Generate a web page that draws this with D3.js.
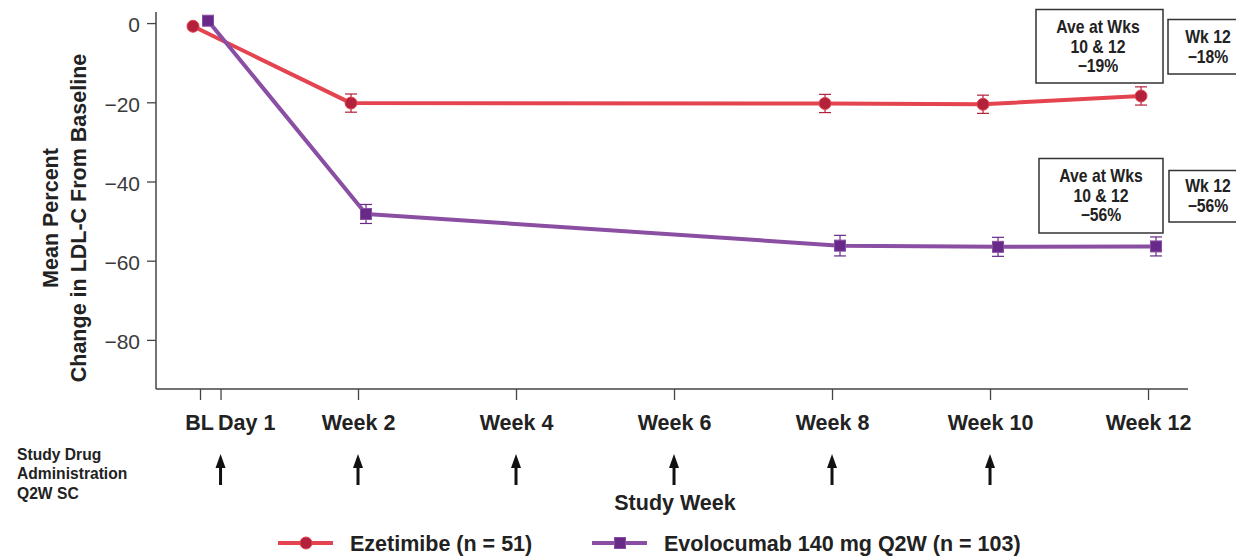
<!DOCTYPE html>
<html>
<head>
<meta charset="utf-8">
<script src="https://cdn.jsdelivr.net/npm/d3@7"></script>
<style>
  html, body { margin: 0; padding: 0; background: #fff; }
  svg { display: block; }
  text { font-family: "Liberation Sans", Arial, sans-serif; }
</style>
</head>
<body>
<svg id="chart" width="1236" height="558"></svg>
<script>
// Visit schedule (study weeks) and mean percent change in LDL-C from baseline
const weeks = [0, 2, 8, 10, 12];
const ezetimibeMean = [-0.8, -20.2, -20.3, -20.5, -18.4];
const ezetimibeSE = [0, 2.3, 2.3, 2.3, 2.3];
const evolocumabMean = [0.6, -48.2, -56.2, -56.5, -56.4];
const evolocumabSE = [0, 2.4, 2.6, 2.4, 2.4];

// Axis ticks
const xTickWeeks = [0, 0.26, 2, 4, 6, 8, 10, 12];
const xTickLabels = ["BL", "Day 1", "Week 2", "Week 4", "Week 6", "Week 8", "Week 10", "Week 12"];
const yTicks = [0, -20, -40, -60, -80];

// Q2W subcutaneous dosing days
const doseWeeks = [0.26, 2, 4, 6, 8, 10];

// Summary boxes
const ezetimibeAvgLines = ["Ave at Wks", "10 & 12", "\u221219%"];
const ezetimibeWk12Lines = ["Wk 12", "\u221218%"];
const evolocumabAvgLines = ["Ave at Wks", "10 & 12", "\u221256%"];
const evolocumabWk12Lines = ["Wk 12", "\u221256%"];

const seriesNames = ["Ezetimibe (n = 51)", "Evolocumab 140 mg Q2W (n = 103)"];

const RED = "#e4444f", RED_DARK = "#b3213a";
const PURPLE = "#8a4ea3", PURPLE_DARK = "#672a88";
const AXIS = "#444";

const svg = d3.select("#chart");
const x = d3.scaleLinear().domain([-0.557, 12.506]).range([156, 1188]);
const y = d3.scaleLinear().domain([-92.4, 2.8]).range([389, 12]);

// Y axis
const yAxis = svg.append("g")
  .attr("transform", "translate(156,0)")
  .call(d3.axisLeft(y).tickValues(yTicks).tickSize(9).tickPadding(7)
    .tickFormat(d => d === 0 ? "0" : "\u2212" + Math.abs(d)));
yAxis.select(".domain").attr("stroke", AXIS).attr("stroke-width", 1.5).attr("d", `M-0,${y.range()[1]}V${y.range()[0]}`);
yAxis.selectAll(".tick line").attr("stroke", AXIS).attr("stroke-width", 1.3);
yAxis.selectAll(".tick text")
  .attr("fill", "#3a3a3a").attr("font-size", 21)
  .attr("font-family", "Liberation Sans, Arial, sans-serif")
  .attr("dy", "0.42em");

// X axis
const xAxis = svg.append("g")
  .attr("transform", "translate(0,389)")
  .call(d3.axisBottom(x).tickValues(xTickWeeks).tickSize(11).tickPadding(15)
    .tickFormat((d, i) => xTickLabels[i]));
xAxis.select(".domain").attr("stroke", AXIS).attr("stroke-width", 1.5).attr("d", `M${x.range()[0]},0H${x.range()[1]}`);
xAxis.selectAll(".tick line").attr("stroke", AXIS).attr("stroke-width", 1.3);
xAxis.selectAll(".tick text")
  .attr("fill", "#222").attr("font-size", 21.5).attr("font-weight", "bold")
  .attr("font-family", "Liberation Sans, Arial, sans-serif")
  .attr("text-anchor", (d, i) => i === 1 ? "start" : "middle")
  .attr("x", (d, i) => i === 1 ? -3 : (i === 0 ? -1 : 0));

// Y axis title
const yTitle = svg.append("text")
  .attr("transform", "translate(58,218) rotate(-90)")
  .attr("text-anchor", "middle")
  .attr("font-weight", "bold").attr("font-size", 21.5).attr("fill", "#222");
yTitle.append("tspan").attr("x", 0).attr("y", 0).text("Mean Percent");
yTitle.append("tspan").attr("x", 0).attr("y", 28).text("Change in LDL-C From Baseline");

// Series drawing
function drawSeries(means, ses, color, dark, dodge, shape) {
  const pts = weeks.map((w, i) => ({ px: x(w) + dodge, v: means[i], se: ses[i] }));
  const line = d3.line().x(d => d.px).y(d => y(d.v));
  const g = svg.append("g");
  g.append("path").datum(pts)
    .attr("d", line).attr("fill", "none")
    .attr("stroke", color).attr("stroke-width", 4).attr("stroke-linejoin", "round");
  const eb = g.selectAll(".eb").data(pts.filter(d => d.se > 0)).enter().append("g");
  eb.append("line").attr("x1", d => d.px).attr("x2", d => d.px)
    .attr("y1", d => y(d.v + d.se)).attr("y2", d => y(d.v - d.se))
    .attr("stroke", dark).attr("stroke-width", 1.2);
  [1, -1].forEach(s => {
    eb.append("line").attr("x1", d => d.px - 6).attr("x2", d => d.px + 6)
      .attr("y1", d => y(d.v + s * d.se)).attr("y2", d => y(d.v + s * d.se))
      .attr("stroke", dark).attr("stroke-width", 1.2);
  });
  if (shape === "circle") {
    g.selectAll(".m").data(pts).enter().append("circle")
      .attr("cx", d => d.px).attr("cy", d => y(d.v)).attr("r", 6)
      .attr("fill", dark).attr("stroke", color).attr("stroke-width", 1);
  } else {
    g.selectAll(".m").data(pts).enter().append("rect")
      .attr("x", d => d.px - 5.5).attr("y", d => y(d.v) - 5.5)
      .attr("width", 11).attr("height", 11)
      .attr("fill", dark).attr("stroke", color).attr("stroke-width", 1);
  }
}
drawSeries(ezetimibeMean, ezetimibeSE, RED, RED_DARK, -7, "circle");
drawSeries(evolocumabMean, evolocumabSE, PURPLE, PURPLE_DARK, 8, "square");

// Condensed bold text block (horizontally squeezed)
function narrowText(cx, firstBaseline, step, lines, size, anchor, sx) {
  const g = svg.append("g").attr("transform", `translate(${cx},0) scale(${sx},1)`);
  const t = g.append("text")
    .attr("text-anchor", anchor).attr("font-weight", "bold")
    .attr("font-size", size).attr("fill", "#222");
  lines.forEach((s, i) => t.append("tspan").attr("x", 0).attr("y", firstBaseline + i * step).text(s));
}

// Annotation boxes
function box(x0, y0, w, h, lines, cx, firstBaseline, step) {
  svg.append("rect").attr("x", x0).attr("y", y0).attr("width", w).attr("height", h)
    .attr("fill", "#fff").attr("stroke", "#333").attr("stroke-width", 1.5);
  narrowText(cx, firstBaseline, step, lines, 17.5, "middle", 0.9);
}
box(1036, 9.5, 127, 73.5, ezetimibeAvgLines, 1098, 33.5, 19.5);
box(1168, 19.5, 80, 54.5, ezetimibeWk12Lines, 1208, 43.5, 20);
box(1039, 158.5, 124, 74.5, evolocumabAvgLines, 1101, 182.5, 19.5);
box(1169, 170.5, 80, 51.5, evolocumabWk12Lines, 1208, 192.5, 19.5);

// Dosing label and arrows
narrowText(17, 460, 19.5, ["Study Drug", "Administration", "Q2W SC"], 17, "start", 0.92);

const arrows = svg.append("g");
doseWeeks.forEach(w => {
  const ax = x(w);
  arrows.append("line").attr("x1", ax).attr("x2", ax).attr("y1", 466).attr("y2", 485)
    .attr("stroke", "#111").attr("stroke-width", 3);
  arrows.append("path")
    .attr("d", `M${ax},454 L${ax - 5},468 L${ax + 5},468 Z`).attr("fill", "#111");
});

// X axis title
svg.append("text").attr("x", 675).attr("y", 510).attr("text-anchor", "middle")
  .attr("font-weight", "bold").attr("font-size", 21.5).attr("fill", "#222").text("Study Week");

// Legend
const leg = svg.append("g");
const legendItems = [
  { name: seriesNames[0], color: RED, dark: RED_DARK, shape: "circle", x0: 278 },
  { name: seriesNames[1], color: PURPLE, dark: PURPLE_DARK, shape: "square", x0: 592 }
];
legendItems.forEach(it => {
  leg.append("line").attr("x1", it.x0).attr("x2", it.x0 + 55).attr("y1", 543).attr("y2", 543)
    .attr("stroke", it.color).attr("stroke-width", 4);
  if (it.shape === "circle") {
    leg.append("circle").attr("cx", it.x0 + 28).attr("cy", 543).attr("r", 6)
      .attr("fill", it.dark).attr("stroke", it.color);
  } else {
    leg.append("rect").attr("x", it.x0 + 22.5).attr("y", 537.5).attr("width", 11).attr("height", 11)
      .attr("fill", it.dark).attr("stroke", it.color);
  }
  leg.append("text").attr("x", it.x0 + 72).attr("y", 551)
    .attr("font-weight", "bold").attr("font-size", 21.5).attr("fill", "#222").text(it.name);
});
</script>
</body>
</html>
